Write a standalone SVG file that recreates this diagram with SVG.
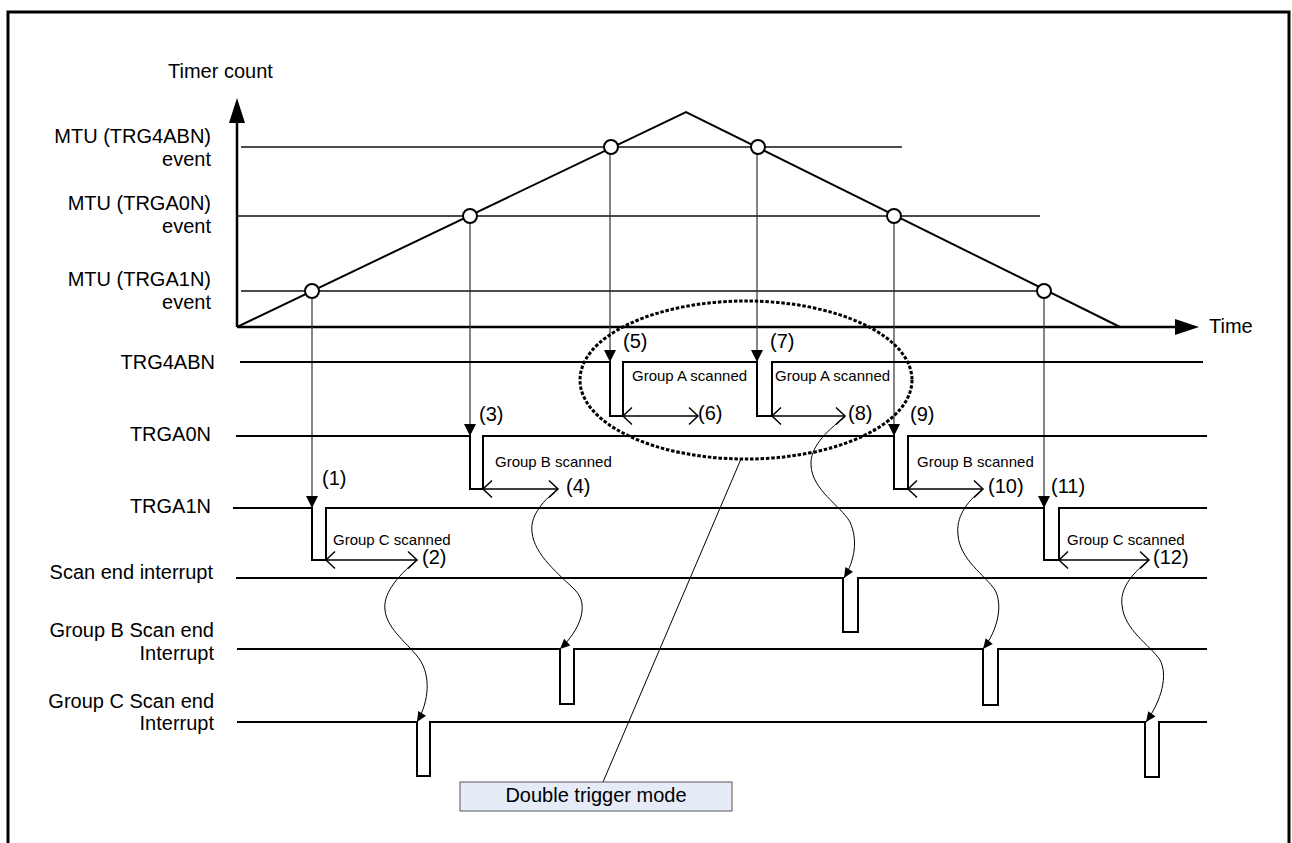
<svg xmlns="http://www.w3.org/2000/svg" width="1292" height="843" viewBox="0 0 1292 843">
<style>
text{font-family:"Liberation Sans",Arial,sans-serif;fill:#000}
.lbl{font-size:20px}
.r{text-anchor:end}
.num{font-size:20px}
.grp{font-size:15px}
.sig{fill:none;stroke:#000;stroke-width:2}
.lvl{fill:none;stroke:#111;stroke-width:1.6}
.vt{fill:none;stroke:#333;stroke-width:1.2}
.dbl{fill:none;stroke:#000;stroke-width:1.5}
.crv{fill:none;stroke:#000;stroke-width:1}
.pt{fill:#fff;stroke:#000;stroke-width:2}
</style>
<defs>
<marker id="tri" markerUnits="userSpaceOnUse" markerWidth="16" markerHeight="16" viewBox="-14 -8 16 16" refX="0" refY="0" orient="auto"><path d="M0,0 L-12,-6 L-12,6 Z" fill="#000"/></marker>
<marker id="chev" markerUnits="userSpaceOnUse" markerWidth="14" markerHeight="20" viewBox="-12 -10 14 20" refX="0" refY="0" orient="auto-start-reverse"><path d="M-9,-8.5 L0,0 L-9,8.5" fill="none" stroke="#000" stroke-width="1.5"/></marker>
<marker id="sm" markerUnits="userSpaceOnUse" markerWidth="12" markerHeight="12" viewBox="-11 -6 12 12" refX="0" refY="0" orient="auto"><path d="M0,0 L-10,-4.5 L-10,4.5 Z" fill="#000"/></marker>
</defs>
<rect width="1292" height="843" fill="#fff"/>
<path d="M8,843 L8,12 L1289,12 L1289,843" fill="none" stroke="#000" stroke-width="3"/>

<g id="chart">
<line x1="237" y1="327" x2="237" y2="120" stroke="#000" stroke-width="2.5"/>
<polygon points="237,98 229,123 245,123" fill="#000"/>
<line x1="237" y1="327" x2="1177" y2="327" stroke="#000" stroke-width="2.5"/>
<polygon points="1199,327 1175,319 1175,335" fill="#000"/>
<text class="lbl" x="168" y="78">Timer count</text>
<text class="lbl" x="1209" y="333">Time</text>
<line class="lvl" x1="241" y1="147" x2="902" y2="147"/>
<line class="lvl" x1="237" y1="216" x2="1040" y2="216"/>
<line class="lvl" x1="241" y1="291" x2="1044" y2="291"/>
<polyline points="237,327 686,112 1120,327" fill="none" stroke="#000" stroke-width="2"/>
<text class="lbl r" x="211" y="143">MTU (TRG4ABN)</text>
<text class="lbl r" x="211" y="166">event</text>
<text class="lbl r" x="211" y="210">MTU (TRGA0N)</text>
<text class="lbl r" x="211" y="233">event</text>
<text class="lbl r" x="211" y="286">MTU (TRGA1N)</text>
<text class="lbl r" x="211" y="309">event</text>
</g>

<g id="connectors">
<line class="vt" x1="312" y1="298" x2="312" y2="508" marker-end="url(#tri)"/>
<line class="vt" x1="470" y1="223" x2="470" y2="436" marker-end="url(#tri)"/>
<line class="vt" x1="610" y1="154" x2="610" y2="362" marker-end="url(#tri)"/>
<line class="vt" x1="757" y1="154" x2="757" y2="362" marker-end="url(#tri)"/>
<line class="vt" x1="894" y1="223" x2="894" y2="436" marker-end="url(#tri)"/>
<line class="vt" x1="1044" y1="298" x2="1044" y2="508" marker-end="url(#tri)"/>
<line class="dbl" x1="326" y1="560" x2="417" y2="560" marker-start="url(#chev)" marker-end="url(#chev)"/>
<line class="dbl" x1="483" y1="489" x2="558" y2="489" marker-start="url(#chev)" marker-end="url(#chev)"/>
<line class="dbl" x1="623" y1="416" x2="698" y2="416" marker-start="url(#chev)" marker-end="url(#chev)"/>
<line class="dbl" x1="772" y1="416" x2="845" y2="416" marker-start="url(#chev)" marker-end="url(#chev)"/>
<line class="dbl" x1="908" y1="489" x2="983" y2="489" marker-start="url(#chev)" marker-end="url(#chev)"/>
<line class="dbl" x1="1059" y1="560" x2="1149" y2="560" marker-start="url(#chev)" marker-end="url(#chev)"/>
<path class="crv" d="M417,560 C395,578 383,595 385,610 C387,630 410,645 420,660 C430,675 430,700 417,722" marker-end="url(#sm)"/>
<path class="crv" d="M558,489 C540,503 530,518 532,532 C534,555 560,575 575,590 C590,605 580,630 560,649" marker-end="url(#sm)"/>
<path class="crv" d="M845,417 C825,432 810,448 811,465 C812,490 840,505 850,522 C858,540 855,560 844,578" marker-end="url(#sm)"/>
<path class="crv" d="M983,489 C965,503 956,518 958,535 C960,560 985,575 995,590 C1003,605 998,630 983,649" marker-end="url(#sm)"/>
<path class="crv" d="M1149,560 C1130,575 1120,590 1122,605 C1124,630 1150,645 1160,660 C1168,675 1162,700 1146,722" marker-end="url(#sm)"/>
<line x1="741" y1="459" x2="603" y2="782" stroke="#000" stroke-width="1"/>
</g>

<g id="points">
<circle class="pt" cx="312" cy="291" r="7"/>
<circle class="pt" cx="470" cy="216" r="7"/>
<circle class="pt" cx="611" cy="147" r="7"/>
<circle class="pt" cx="758" cy="147" r="7"/>
<circle class="pt" cx="894" cy="216" r="7"/>
<circle class="pt" cx="1044" cy="291" r="7"/>
</g>

<g id="sig-trg4abn">
<text class="lbl r" x="215" y="369">TRG4ABN</text>
<path class="sig" d="M240,362 H610 V416 H623 V362 H757 V416 H772 V362 H1203"/>
<text class="num" x="623" y="348">(5)</text>
<text class="num" x="698" y="420">(6)</text>
<text class="num" x="770" y="348">(7)</text>
<text class="num" x="848" y="420">(8)</text>
<text class="grp" x="632" y="381">Group A scanned</text>
<text class="grp" x="775" y="381">Group A scanned</text>
</g>

<g id="sig-trga0n">
<text class="lbl r" x="211" y="441">TRGA0N</text>
<path class="sig" d="M236,436 H470 V489 H483 V436 H894 V489 H908 V436 H1207"/>
<text class="num" x="479" y="421">(3)</text>
<text class="num" x="566" y="493">(4)</text>
<text class="num" x="910" y="421">(9)</text>
<text class="num" x="988" y="493">(10)</text>
<text class="grp" x="495" y="467">Group B scanned</text>
<text class="grp" x="917" y="467">Group B scanned</text>
</g>

<g id="sig-trga1n">
<text class="lbl r" x="211" y="513">TRGA1N</text>
<path class="sig" d="M233,508 H312 V560 H326 V508 H1044 V560 H1059 V508 H1207"/>
<text class="num" x="322" y="485">(1)</text>
<text class="num" x="422" y="564">(2)</text>
<text class="num" x="1051" y="493">(11)</text>
<text class="num" x="1153" y="564">(12)</text>
<text class="grp" x="333" y="545">Group C scanned</text>
<text class="grp" x="1067" y="545">Group C scanned</text>
</g>

<g id="sig-scanend">
<text class="lbl r" x="213" y="579">Scan end interrupt</text>
<path class="sig" d="M236,578 H843 V632 H858 V578 H1207"/>
</g>

<g id="sig-groupb">
<text class="lbl r" x="214" y="637">Group B Scan end</text>
<text class="lbl r" x="214" y="660">Interrupt</text>
<path class="sig" d="M237,649 H560 V704 H574 V649 H983 V705 H998 V649 H1207"/>
</g>

<g id="sig-groupc">
<text class="lbl r" x="214" y="708">Group C Scan end</text>
<text class="lbl r" x="214" y="730">Interrupt</text>
<path class="sig" d="M237,722 H417 V776 H430 V722 H1145 V777 H1159 V722 H1207"/>
</g>

<g id="double-trigger">
<ellipse cx="746" cy="380" rx="166" ry="79" fill="none" stroke="#000" stroke-width="3" stroke-dasharray="3.5 1.8"/>
<rect x="460" y="782" width="272" height="29" fill="#E6ECF7" stroke="#555" stroke-width="1"/>
<text class="lbl" x="596" y="802" text-anchor="middle">Double trigger mode</text>
</g>
</svg>
